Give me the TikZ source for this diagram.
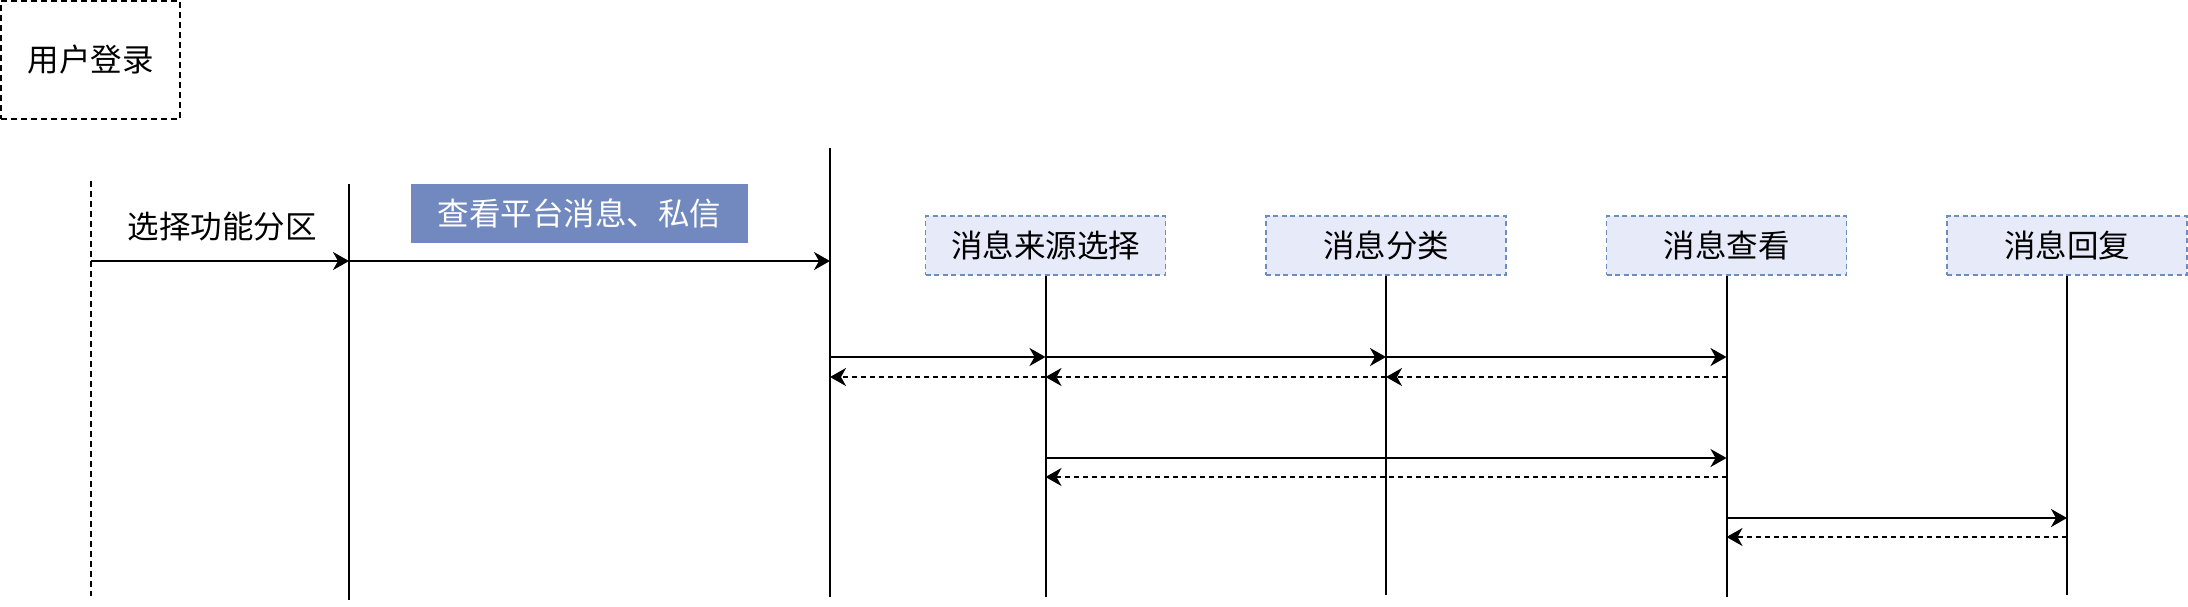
\documentclass[tikz,border=0pt]{standalone}
\usepackage{fontspec}
\newfontfamily\cjk{Noto Sans CJK SC}
\usetikzlibrary{arrows.meta,positioning}
\definecolor{boxblue}{HTML}{7189BF}
\definecolor{headfill}{HTML}{E6EAF9}
\definecolor{headline}{HTML}{6C8EBF}

\begin{document}
\begin{tikzpicture}[x=1pt, y=-1pt, node distance = 340.5pt, on grid,
    txt/.style = {font=\cjk\fontsize{31.5}{36}\selectfont, inner sep=0},
    head/.style = {txt, draw=headline, fill=headfill, line width=1.6pt, dash pattern=on 5pt off 3.5pt,
                   minimum width=240pt, minimum height=59pt},
    life/.style = {line width=2pt},
    call/.style = {line width=2pt, -{Stealth[length=16pt, width=18pt, inset=5pt]}},
    back/.style = {call, dash pattern=on 5pt off 4pt}]

                \useasboundingbox (0,0) rectangle (2188,606);

                \node[txt, draw, line width=1.8pt, dash pattern=on 6pt off 4pt,
                      minimum width=179pt, minimum height=118pt]        (login) at (90.5,60)   {用户登录};
                \node[txt]                                              (pick)  at (222,227)   {选择功能分区};
                \node[txt, fill=boxblue, text=white,
                      minimum width=337pt, minimum height=59pt]         (view)  at (579.5,213.5) {查看平台消息、私信};

                \node[head]                    (m_1) at (1045.5,245.5) {消息来源选择};
                \node[head, right of = m_1]    (m_2)                   {消息分类};
                \node[head, right of = m_2]    (m_3)                   {消息查看};
                \node[head, right of = m_3]    (m_4)                   {消息回复};

                % lifelines
                \coordinate (t_0) at (91,181);  \coordinate (e_0) at (91,596);
                \coordinate (t_1) at (349,184); \coordinate (e_1) at (349,600);
                \coordinate (t_2) at (830,148); \coordinate (e_2) at (830,597);
                \draw[line width=1.6pt, dash pattern=on 6pt off 4pt] (t_0) -- (e_0);
                \draw[line width=1.2pt] (t_1) -- (e_1);
                \draw[life] (t_2) -- (e_2);
                \foreach \i/\d in {1/351.5, 2/349, 3/351.5, 4/349} {
                    \coordinate[below = \d pt of m_\i] (b_\i);
                    \draw[life] (m_\i.south) -- (b_\i);
                }

                % messages
                \draw[call] (t_0 |- 0,261) -- (t_1 |- 0,261);
                \draw[call] (t_1 |- 0,261) -- (t_2 |- 0,261);
                \foreach \a/\b in {t_2/m_1, m_1/m_2, m_2/m_3} {
                    \draw[call] (\a |- 0,357) -- (\b |- 0,357);
                    \draw[back] (\b |- 0,377) -- (\a |- 0,377);
                }
                \draw[call] (m_1 |- 0,458) -- (m_3 |- 0,458);
                \draw[back] (m_3 |- 0,477) -- (m_1 |- 0,477);
                \draw[call] (m_3 |- 0,518) -- (m_4 |- 0,518);
                \draw[back] (m_4 |- 0,537) -- (m_3 |- 0,537);
            \end{tikzpicture}
\end{document}
